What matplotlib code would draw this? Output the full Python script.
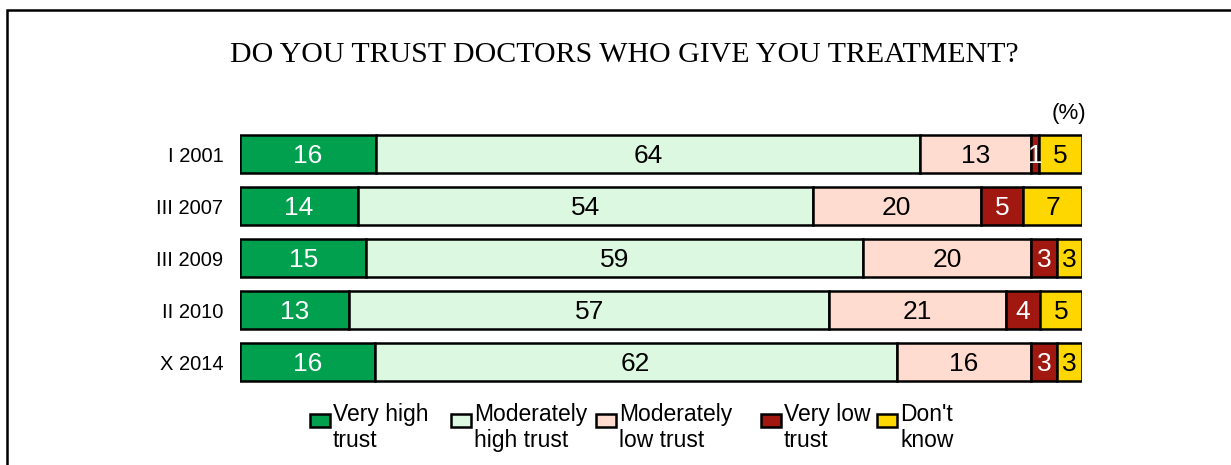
import matplotlib
matplotlib.use("Agg")
import matplotlib.pyplot as plt
from matplotlib.patches import Rectangle
import numpy as np

periods = ["I 2001", "III 2007", "III 2009", "II 2010", "X 2014"]
categories = ["Very high\ntrust", "Moderately\nhigh trust", "Moderately\nlow trust", "Very low\ntrust", "Don't\nknow"]
very_high = [16, 14, 15, 13, 16]
mod_high = [64, 54, 59, 57, 62]
mod_low = [13, 20, 20, 21, 16]
very_low = [1, 5, 3, 4, 3]
dont_know = [5, 7, 3, 5, 3]
colors = ["#00A04F", "#DCF8E0", "#FFDCCF", "#A0180F", "#FFD700"]
text_colors = ["white", "black", "black", "white", "black"]

series = [very_high, mod_high, mod_low, very_low, dont_know]
data = np.array(series, dtype=float)  # shape (5 series, 5 rows)
totals = data.sum(axis=0)
shares = data / totals * 100.0

W, H = 1231, 465
fig = plt.figure(figsize=(W / 100, H / 100), dpi=100)
plt.rcParams['font.family'] = ['Liberation Sans', 'DejaVu Sans']

# frame
fig.patches.append(Rectangle((7 / W, -0.2), 1.5, 1.2 - 10 / H, transform=fig.transFigure,
                             fill=False, edgecolor="black", linewidth=1.8))

ax = fig.add_axes([240 / W, 1 - 388 / H, 842 / W, 260 / H])
y = np.arange(len(periods))
left = np.zeros(len(periods))
for i, (vals, col, tc) in enumerate(zip(shares, colors, text_colors)):
    ax.barh(y, vals, left=left, height=0.73, color=col, edgecolor="black", linewidth=1.8)
    for j in range(len(periods)):
        ax.text(left[j] + vals[j] / 2, y[j] + 0.03, f"{int(data[i, j])}", ha="center", va="center",
                color=tc, fontsize=19)
    left += vals

ax.set_xlim(0, 100)
ax.set_ylim(len(periods) - 0.5, -0.5)
ax.set_yticks(y)
ax.set_yticklabels(periods, fontsize=14.5)
ax.tick_params(axis="y", length=0, pad=12)
ax.set_xticks([])
for s in ax.spines.values():
    s.set_visible(False)

fig.text(624 / W, 1 - 55 / H, "DO YOU TRUST DOCTORS WHO GIVE YOU TREATMENT?", ha="center", va="center",
         fontsize=21.5, family=["Liberation Serif", "DejaVu Serif"])
fig.text(1069 / W, 1 - 114 / H, "(%)", ha="center", va="center", fontsize=16)

# legend
sq_x = [310, 451, 596, 761, 877]
for xs, lab, col in zip(sq_x, categories, colors):
    fig.patches.append(Rectangle((xs / W, 1 - 427 / H), 20 / W, 13 / H, transform=fig.transFigure,
                                 facecolor=col, edgecolor="black", linewidth=1.8))
    fig.text((xs + 23) / W, 1 - 403 / H, lab, ha="left", va="top", fontsize=16.5, linespacing=1.15)

fig.savefig("out.png", dpi=100)
